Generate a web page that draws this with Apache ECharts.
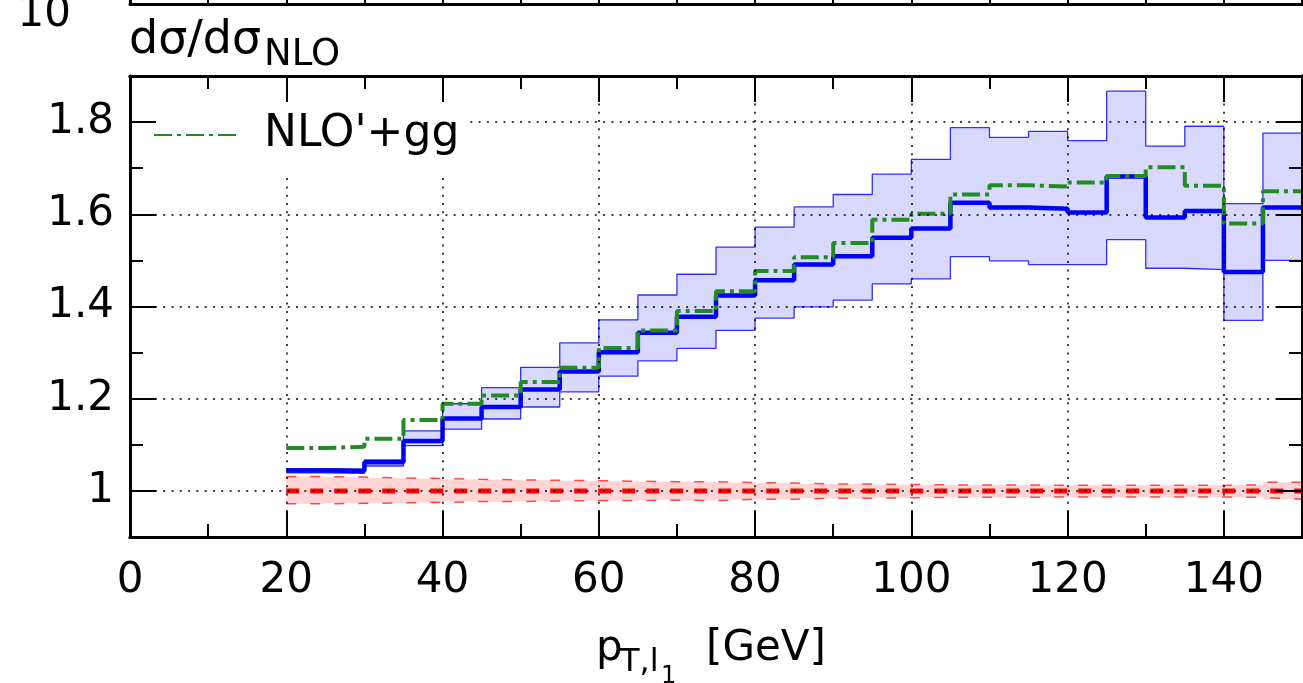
<!DOCTYPE html>
<html>
<head>
<meta charset="utf-8">
<script src="https://cdn.jsdelivr.net/npm/echarts@6/dist/echarts.min.js"></script>
<style>html,body{margin:0;padding:0;background:#fff;}#c{width:1303px;height:683px;}</style>
</head>
<body>
<div id="c"></div>
<script>
// ---- data (bins of p_T in GeV; ratios to NLO) ----
var binEdges = [20,25,30,35,40,45,50,55,60,65,70,75,80,85,90,95,100,105,110,115,120,125,130,135,140,145,150];
var nloRatio   = [1,1,1,1,1,1,1,1,1,1,1,1,1,1,1,1,1,1,1,1,1,1,1,1,1,1];
var nloUpper   = [1.031,1.030,1.028,1.027,1.025,1.024,1.023,1.022,1.021,1.020,1.020,1.018,1.017,1.015,1.015,1.014,1.013,1.013,1.013,1.012,1.012,1.012,1.012,1.012,1.013,1.019];
var nloLower   = [0.972,0.973,0.974,0.975,0.977,0.977,0.978,0.979,0.979,0.980,0.979,0.982,0.982,0.984,0.984,0.985,0.986,0.986,0.986,0.987,0.987,0.987,0.987,0.987,0.986,0.982];
var blueCentral = [1.044,1.043,1.062,1.108,1.157,1.182,1.220,1.259,1.301,1.343,1.378,1.424,1.457,1.491,1.509,1.549,1.569,1.625,1.615,1.612,1.604,1.682,1.593,1.607,1.475,1.615];
var blueUpper   = [1.048,1.047,1.067,1.130,1.189,1.224,1.268,1.321,1.371,1.425,1.470,1.529,1.572,1.616,1.643,1.687,1.719,1.788,1.767,1.780,1.760,1.867,1.748,1.791,1.623,1.776];
var blueLower   = [1.039,1.038,1.054,1.098,1.134,1.156,1.182,1.215,1.249,1.282,1.309,1.348,1.375,1.399,1.414,1.449,1.460,1.508,1.499,1.491,1.491,1.545,1.483,1.480,1.370,1.500];
var nloGG       = [1.093,1.096,1.113,1.154,1.189,1.207,1.236,1.267,1.310,1.348,1.390,1.433,1.477,1.507,1.538,1.588,1.601,1.643,1.663,1.660,1.669,1.683,1.702,1.662,1.580,1.650];
var xMajorTicks = [0,20,40,60,80,100,120,140];
var xMinorTicks = [10,30,50,70,90,110,130];
var yMajorTicks = [1,1.2,1.4,1.6,1.8];
var yMinorTicks = [1.1,1.3,1.5,1.7];
var upperXTicks = [0,10,20,30,40,50,60,70,80,90,100,110,120,130,140,150];
var legendName = "NLO'+gg";

var FONT = 'DejaVu Sans';

function stepPoints(vals) {
  return binEdges.map(function (x, i) { return [x, vals[Math.min(i, vals.length - 1)]]; });
}
function bandData(lo, hi) {
  return lo.map(function (v, i) { return [binEdges[i], binEdges[i + 1], v, hi[i]]; });
}
function bandRender(color) {
  return function (params, api) {
    var a = api.coord([api.value(0), api.value(3)]);
    var b = api.coord([api.value(1), api.value(2)]);
    return { type: 'rect', shape: { x: a[0], y: a[1], width: b[0] - a[0], height: b[1] - a[1] }, style: { fill: color } };
  };
}

var AX = { color: '#000', width: 3 };
function xAx(grid, pos, ticks, len, labels) {
  return {
    type: 'value', gridIndex: grid, position: pos, min: 0, max: 150, z: 10,
    axisLine: { show: true, onZero: false, lineStyle: AX },
    axisTick: { show: true, inside: true, length: len, lineStyle: { color: '#000', width: 2 }, customValues: ticks },
    axisLabel: labels ? { show: true, customValues: ticks, fontSize: 42, fontFamily: FONT, color: '#000', margin: 23 } : { show: false },
    splitLine: { show: false }
  };
}
function yAx(grid, pos, ticks, len, labels, mn, mx) {
  return {
    type: 'value', gridIndex: grid, position: pos, min: mn, max: mx, z: 10,
    axisLine: { show: true, onZero: false, lineStyle: AX },
    axisTick: { show: ticks.length > 0, inside: true, length: len, lineStyle: { color: '#000', width: 2 }, customValues: ticks },
    axisLabel: labels ? { show: true, customValues: ticks, fontSize: 42, fontFamily: FONT, color: '#000', margin: 16, padding: [11, 0, 0, 0] } : { show: false },
    splitLine: { show: false }
  };
}

var gridLines = [];
xMajorTicks.slice(1).forEach(function (v) { gridLines.push({ xAxis: v }); });
yMajorTicks.forEach(function (v) { gridLines.push({ yAxis: v }); });

var chart = echarts.init(document.getElementById('c'), null, { renderer: 'canvas' });
chart.setOption({
  animation: false,
  backgroundColor: '#fff',
  grid: [
    { left: 130, top: 76, width: 1172, height: 461, containLabel: false, outerBoundsMode: 'none' },
    { left: 130, top: -100, width: 1172, height: 104.5, containLabel: false, outerBoundsMode: 'none' }
  ],
  xAxis: [
    xAx(0, 'bottom', xMajorTicks, 26, true),
    xAx(0, 'bottom', xMinorTicks, 13, false),
    xAx(0, 'top', xMajorTicks, 26, false),
    xAx(0, 'top', xMinorTicks, 13, false),
    xAx(1, 'bottom', upperXTicks, 13, false)
  ],
  yAxis: [
    yAx(0, 'left', yMajorTicks, 26, true, 0.9, 1.9),
    yAx(0, 'left', yMinorTicks, 13, false, 0.9, 1.9),
    yAx(0, 'right', yMajorTicks, 26, false, 0.9, 1.9),
    yAx(0, 'right', yMinorTicks, 13, false, 0.9, 1.9),
    yAx(1, 'left', [], 0, false, 0, 1),
    yAx(1, 'right', [], 0, false, 0, 1)
  ],
  legend: {
    data: [legendName], left: 150, top: 101, z: 8,
    padding: [12, 5, 16, 3], backgroundColor: '#fff',
    itemWidth: 84, itemHeight: 14, itemStyle: { opacity: 0 },
    textStyle: { fontSize: 44, fontFamily: FONT, color: '#000', padding: [0, 0, 0, 21] },
    selectedMode: false
  },
  graphic: [
    { type: 'text', x: 129, y: 41, style: { text: 'dσ/dσ', fontSize: 46, fontFamily: FONT, fill: '#000', verticalAlign: 'middle' } },
    { type: 'text', x: 264, y: 55, style: { text: 'NLO', fontSize: 37, fontFamily: FONT, fill: '#000', verticalAlign: 'middle' } },
    { type: 'text', x: 596, y: 649.5, style: { text: 'p', fontSize: 42, fontFamily: FONT, fill: '#000', verticalAlign: 'middle' } },
    { type: 'text', x: 620, y: 663, style: { text: 'T,l', fontSize: 32, fontFamily: FONT, fill: '#000', verticalAlign: 'middle' } },
    { type: 'text', x: 661, y: 677, style: { text: '1', fontSize: 24, fontFamily: FONT, fill: '#000', verticalAlign: 'middle' } },
    { type: 'text', x: 706, y: 649.5, style: { text: '[GeV]', fontSize: 42, fontFamily: FONT, fill: '#000', verticalAlign: 'middle' } },
    { type: 'text', x: 17.5, y: 15, style: { text: '10', fontSize: 42, fontFamily: FONT, fill: '#000', verticalAlign: 'middle' } }
  ],
  series: [
    { type: 'custom', name: 'nloBand', xAxisIndex: 0, yAxisIndex: 0, data: bandData(nloLower, nloUpper),
      encode: { x: [0, 1], y: [2, 3] }, renderItem: bandRender('rgba(255,0,0,0.17)'), silent: true },
    { type: 'line', name: 'nloUp', step: 'end', data: stepPoints(nloUpper), symbol: 'none', silent: true,
      lineStyle: { color: '#ff2020', width: 1.5, type: [10, 14], opacity: 0.8 } },
    { type: 'line', name: 'nloLo', step: 'end', data: stepPoints(nloLower), symbol: 'none', silent: true,
      lineStyle: { color: '#ff2020', width: 1.5, type: [10, 14], opacity: 0.8 } },
    { type: 'line', name: 'nlo', step: 'end', data: stepPoints(nloRatio), symbol: 'none', silent: true,
      lineStyle: { color: '#ff0000', width: 5, type: [13, 11] },
      markLine: { silent: true, symbol: ['none', 'none'], label: { show: false }, z: 5,
        lineStyle: { color: '#000', width: 1.5, type: [2, 6.3] }, data: gridLines } },
    { type: 'custom', name: 'blueBand', xAxisIndex: 0, yAxisIndex: 0, data: bandData(blueLower, blueUpper),
      encode: { x: [0, 1], y: [2, 3] }, renderItem: bandRender('rgba(0,0,255,0.15)'), silent: true },
    { type: 'line', name: 'blueUp', step: 'end', data: stepPoints(blueUpper), symbol: 'none', silent: true,
      lineStyle: { color: '#0000ff', width: 1.3, opacity: 0.8 } },
    { type: 'line', name: 'blueLo', step: 'end', data: stepPoints(blueLower), symbol: 'none', silent: true,
      lineStyle: { color: '#0000ff', width: 1.3, opacity: 0.8 } },
    { type: 'line', name: 'blue', step: 'end', data: stepPoints(blueCentral), symbol: 'none', silent: true,
      lineStyle: { color: '#0000ff', width: 4.5 } },
    { type: 'line', name: legendName, step: 'end', data: stepPoints(nloGG), symbol: 'none', silent: true,
      itemStyle: { color: '#228b22' },
      lineStyle: { color: '#228b22', width: 4, type: [18, 5, 4, 5] } }
  ]
});
</script>
</body>
</html>
